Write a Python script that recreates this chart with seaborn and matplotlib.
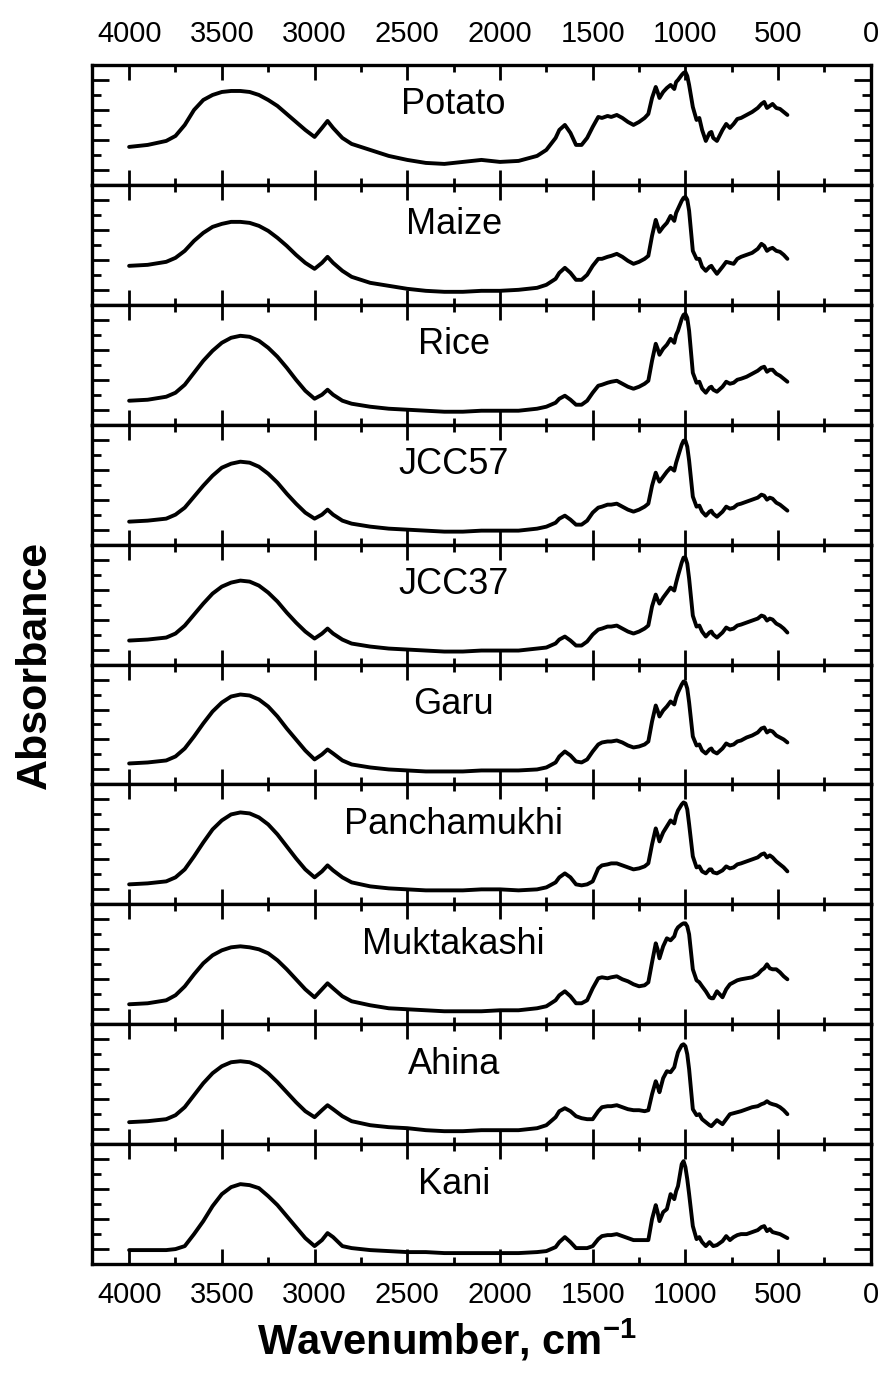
import numpy as np
import pandas as pd
import matplotlib
matplotlib.use("Agg")
import matplotlib.pyplot as plt
from matplotlib.ticker import MultipleLocator, FixedLocator
import seaborn as sns

# FTIR spectra of starches: wavenumber grid (cm^-1) and absorbance (a.u.) per sample
wavenumber = [
    4000, 3900, 3800, 3750, 3700, 3650, 3600, 3550, 3500, 3450,
    3400, 3350, 3300, 3250, 3200, 3150, 3100, 3050, 3000, 2960,
    2930, 2900, 2850, 2800, 2700, 2600, 2500, 2400, 2300, 2200,
    2100, 2000, 1900, 1800, 1750, 1700, 1680, 1650, 1620, 1590,
    1560, 1530, 1500, 1470, 1450, 1420, 1400, 1370, 1340, 1310,
    1280, 1250, 1220, 1200, 1180, 1160, 1150, 1140, 1120, 1100,
    1080, 1060, 1050, 1040, 1020, 1010, 1000, 990, 980, 960,
    940, 925, 910, 890, 870, 860, 850, 830, 800, 780,
    760, 740, 720, 700, 670, 640, 610, 590, 575, 560,
    545, 530, 510, 490, 470, 450,
]

potato = [
    0.38, 0.40, 0.44, 0.49, 0.60, 0.75, 0.85, 0.90, 0.93, 0.94,
    0.94, 0.93, 0.90, 0.85, 0.79, 0.71, 0.63, 0.55, 0.48, 0.57,
    0.64, 0.57, 0.47, 0.41, 0.35, 0.29, 0.25, 0.22, 0.21, 0.23,
    0.25, 0.23, 0.24, 0.29, 0.35, 0.47, 0.55, 0.60, 0.52, 0.40,
    0.40, 0.47, 0.58, 0.68, 0.67, 0.69, 0.68, 0.70, 0.67, 0.63,
    0.60, 0.63, 0.67, 0.71, 0.87, 0.98, 0.93, 0.87, 0.93, 0.97,
    1.00, 0.96, 1.03, 1.05, 1.10, 1.12, 1.13, 1.09, 1.00, 0.78,
    0.65, 0.67, 0.55, 0.44, 0.52, 0.53, 0.47, 0.44, 0.55, 0.61,
    0.57, 0.61, 0.66, 0.67, 0.70, 0.73, 0.77, 0.81, 0.83, 0.77,
    0.79, 0.81, 0.77, 0.76, 0.73, 0.70,
]

maize = [
    0.39, 0.40, 0.43, 0.47, 0.54, 0.64, 0.72, 0.78, 0.81, 0.83,
    0.83, 0.82, 0.79, 0.74, 0.67, 0.59, 0.50, 0.42, 0.36, 0.42,
    0.48, 0.42, 0.34, 0.28, 0.22, 0.19, 0.16, 0.14, 0.13, 0.13,
    0.14, 0.14, 0.15, 0.17, 0.20, 0.26, 0.32, 0.37, 0.32, 0.25,
    0.25, 0.30, 0.39, 0.46, 0.46, 0.48, 0.49, 0.51, 0.48, 0.44,
    0.41, 0.43, 0.46, 0.49, 0.69, 0.85, 0.79, 0.73, 0.78, 0.82,
    0.89, 0.84, 0.92, 0.96, 1.04, 1.07, 1.08, 1.05, 0.94, 0.54,
    0.46, 0.46, 0.38, 0.34, 0.38, 0.39, 0.36, 0.31, 0.38, 0.43,
    0.42, 0.41, 0.46, 0.48, 0.50, 0.52, 0.56, 0.61, 0.59, 0.54,
    0.56, 0.57, 0.54, 0.53, 0.50, 0.46,
]

rice = [
    0.24, 0.25, 0.28, 0.32, 0.40, 0.52, 0.64, 0.74, 0.82, 0.87,
    0.89, 0.88, 0.84, 0.77, 0.68, 0.57, 0.45, 0.34, 0.26, 0.30,
    0.35, 0.30, 0.24, 0.21, 0.18, 0.16, 0.15, 0.14, 0.13, 0.13,
    0.14, 0.14, 0.14, 0.16, 0.18, 0.22, 0.26, 0.29, 0.25, 0.20,
    0.20, 0.24, 0.32, 0.39, 0.40, 0.42, 0.43, 0.44, 0.41, 0.38,
    0.36, 0.38, 0.41, 0.44, 0.64, 0.81, 0.76, 0.70, 0.76, 0.80,
    0.86, 0.82, 0.90, 0.94, 1.06, 1.10, 1.11, 1.07, 0.94, 0.52,
    0.42, 0.43, 0.36, 0.32, 0.37, 0.38, 0.35, 0.33, 0.38, 0.43,
    0.41, 0.42, 0.45, 0.46, 0.48, 0.51, 0.54, 0.57, 0.58, 0.53,
    0.55, 0.55, 0.51, 0.49, 0.46, 0.43,
]

jcc57 = [
    0.23, 0.24, 0.26, 0.30, 0.37, 0.48, 0.59, 0.69, 0.77, 0.81,
    0.83, 0.82, 0.78, 0.71, 0.62, 0.51, 0.41, 0.32, 0.26, 0.30,
    0.35, 0.30, 0.24, 0.21, 0.18, 0.16, 0.15, 0.14, 0.13, 0.13,
    0.14, 0.14, 0.14, 0.16, 0.18, 0.22, 0.26, 0.29, 0.25, 0.20,
    0.20, 0.24, 0.32, 0.37, 0.38, 0.40, 0.40, 0.41, 0.38, 0.35,
    0.33, 0.35, 0.38, 0.41, 0.59, 0.72, 0.67, 0.63, 0.68, 0.73,
    0.77, 0.74, 0.82, 0.88, 1.00, 1.04, 1.04, 0.98, 0.84, 0.48,
    0.38, 0.39, 0.33, 0.29, 0.33, 0.34, 0.31, 0.28, 0.33, 0.38,
    0.36, 0.37, 0.40, 0.41, 0.43, 0.45, 0.47, 0.50, 0.49, 0.45,
    0.47, 0.46, 0.42, 0.40, 0.37, 0.34,
]

jcc37 = [
    0.24, 0.25, 0.27, 0.31, 0.39, 0.50, 0.61, 0.71, 0.78, 0.82,
    0.84, 0.83, 0.79, 0.72, 0.63, 0.52, 0.42, 0.33, 0.26, 0.31,
    0.36, 0.31, 0.25, 0.21, 0.18, 0.16, 0.15, 0.14, 0.13, 0.13,
    0.14, 0.14, 0.14, 0.16, 0.17, 0.21, 0.25, 0.28, 0.24, 0.19,
    0.19, 0.23, 0.30, 0.35, 0.36, 0.38, 0.38, 0.39, 0.36, 0.33,
    0.31, 0.33, 0.36, 0.39, 0.58, 0.70, 0.65, 0.61, 0.67, 0.72,
    0.77, 0.74, 0.82, 0.89, 1.02, 1.07, 1.07, 1.01, 0.86, 0.49,
    0.38, 0.39, 0.33, 0.28, 0.32, 0.33, 0.30, 0.27, 0.32, 0.37,
    0.35, 0.36, 0.39, 0.40, 0.42, 0.44, 0.46, 0.49, 0.48, 0.44,
    0.46, 0.45, 0.41, 0.39, 0.36, 0.32,
]

garu = [
    0.21, 0.22, 0.24, 0.28, 0.36, 0.48, 0.61, 0.73, 0.82, 0.88,
    0.90, 0.89, 0.85, 0.78, 0.68, 0.56, 0.45, 0.34, 0.25, 0.30,
    0.35, 0.31, 0.24, 0.20, 0.17, 0.15, 0.14, 0.13, 0.13, 0.13,
    0.14, 0.14, 0.14, 0.15, 0.17, 0.22, 0.28, 0.33, 0.29, 0.23,
    0.22, 0.25, 0.33, 0.40, 0.42, 0.43, 0.43, 0.44, 0.42, 0.39,
    0.37, 0.38, 0.40, 0.43, 0.63, 0.79, 0.74, 0.68, 0.74, 0.78,
    0.83, 0.80, 0.87, 0.92, 1.00, 1.03, 1.02, 0.96, 0.82, 0.48,
    0.39, 0.40, 0.34, 0.31, 0.35, 0.36, 0.33, 0.31, 0.36, 0.41,
    0.39, 0.40, 0.43, 0.44, 0.47, 0.49, 0.52, 0.56, 0.57, 0.52,
    0.54, 0.53, 0.49, 0.47, 0.45, 0.42,
]

panchamukhi = [
    0.20, 0.21, 0.23, 0.27, 0.35, 0.48, 0.62, 0.75, 0.84, 0.90,
    0.92, 0.91, 0.87, 0.80, 0.70, 0.58, 0.46, 0.35, 0.27, 0.33,
    0.39, 0.34, 0.27, 0.22, 0.18, 0.16, 0.15, 0.14, 0.14, 0.14,
    0.15, 0.15, 0.14, 0.15, 0.17, 0.22, 0.27, 0.31, 0.27, 0.20,
    0.19, 0.20, 0.23, 0.36, 0.39, 0.40, 0.41, 0.41, 0.39, 0.37,
    0.35, 0.36, 0.38, 0.41, 0.60, 0.76, 0.70, 0.63, 0.72, 0.78,
    0.84, 0.81, 0.89, 0.94, 1.00, 1.02, 1.01, 0.95, 0.80, 0.48,
    0.37, 0.38, 0.33, 0.31, 0.35, 0.35, 0.32, 0.31, 0.34, 0.38,
    0.36, 0.37, 0.40, 0.41, 0.43, 0.45, 0.47, 0.50, 0.51, 0.47,
    0.49, 0.47, 0.43, 0.40, 0.37, 0.33,
]

muktakashi = [
    0.20, 0.21, 0.24, 0.29, 0.38, 0.50, 0.61, 0.69, 0.74, 0.77,
    0.78, 0.77, 0.75, 0.71, 0.64, 0.55, 0.45, 0.35, 0.27, 0.35,
    0.41, 0.36, 0.28, 0.23, 0.19, 0.16, 0.15, 0.14, 0.13, 0.13,
    0.13, 0.14, 0.14, 0.16, 0.18, 0.24, 0.29, 0.33, 0.28, 0.21,
    0.21, 0.24, 0.36, 0.46, 0.47, 0.46, 0.47, 0.48, 0.45, 0.43,
    0.40, 0.38, 0.39, 0.42, 0.62, 0.81, 0.75, 0.66, 0.78, 0.86,
    0.84, 0.88, 0.94, 0.97, 1.00, 1.01, 1.01, 0.98, 0.90, 0.55,
    0.44, 0.42, 0.38, 0.33, 0.27, 0.26, 0.26, 0.33, 0.27, 0.35,
    0.40, 0.42, 0.44, 0.45, 0.46, 0.47, 0.50, 0.54, 0.56, 0.60,
    0.56, 0.55, 0.55, 0.52, 0.48, 0.45,
]

ahina = [
    0.22, 0.23, 0.25, 0.29, 0.37, 0.49, 0.61, 0.71, 0.78, 0.82,
    0.83, 0.82, 0.78, 0.71, 0.62, 0.52, 0.42, 0.33, 0.27, 0.34,
    0.39, 0.35, 0.28, 0.23, 0.19, 0.17, 0.16, 0.14, 0.13, 0.13,
    0.14, 0.14, 0.14, 0.16, 0.19, 0.27, 0.33, 0.36, 0.33, 0.28,
    0.26, 0.25, 0.25, 0.33, 0.37, 0.38, 0.38, 0.39, 0.37, 0.35,
    0.34, 0.34, 0.33, 0.34, 0.50, 0.63, 0.58, 0.52, 0.66, 0.73,
    0.72, 0.77, 0.85, 0.92, 0.99, 1.00, 0.98, 0.90, 0.75, 0.35,
    0.29, 0.30, 0.25, 0.22, 0.19, 0.18, 0.20, 0.24, 0.20, 0.25,
    0.30, 0.31, 0.32, 0.33, 0.35, 0.37, 0.38, 0.40, 0.41, 0.43,
    0.41, 0.40, 0.39, 0.37, 0.34, 0.30,
]

kani = [
    0.14, 0.14, 0.14, 0.15, 0.18, 0.30, 0.43, 0.58, 0.70, 0.77,
    0.80, 0.79, 0.76, 0.68, 0.59, 0.48, 0.37, 0.26, 0.18, 0.24,
    0.31, 0.27, 0.18, 0.16, 0.14, 0.13, 0.12, 0.12, 0.11, 0.11,
    0.11, 0.11, 0.11, 0.12, 0.13, 0.17, 0.22, 0.27, 0.22, 0.16,
    0.16, 0.16, 0.18, 0.25, 0.28, 0.29, 0.29, 0.30, 0.28, 0.26,
    0.24, 0.24, 0.24, 0.24, 0.45, 0.59, 0.52, 0.43, 0.52, 0.55,
    0.70, 0.65, 0.73, 0.78, 1.00, 1.03, 0.97, 0.85, 0.70, 0.38,
    0.25, 0.27, 0.22, 0.18, 0.22, 0.20, 0.18, 0.19, 0.23, 0.28,
    0.24, 0.27, 0.29, 0.30, 0.30, 0.32, 0.34, 0.37, 0.38, 0.33,
    0.35, 0.32, 0.31, 0.30, 0.28, 0.26,
]

samples = ["Potato", "Maize", "Rice", "JCC57", "JCC37", "Garu",
           "Panchamukhi", "Muktakashi", "Ahina", "Kani"]
spectra = [potato, maize, rice, jcc57, jcc37, garu,
           panchamukhi, muktakashi, ahina, kani]

df = pd.concat(
    [pd.DataFrame({"wavenumber": wavenumber, "absorbance": vals, "sample": name})
     for name, vals in zip(samples, spectra)],
    ignore_index=True,
)

sns.set_theme(style="ticks")
plt.rcParams["font.family"] = ["Liberation Sans", "DejaVu Sans"]
plt.rcParams["text.color"] = "black"
plt.rcParams["mathtext.fontset"] = "custom"
plt.rcParams["mathtext.rm"] = "Liberation Sans"
plt.rcParams["mathtext.bf"] = "Liberation Sans:bold"

fig = plt.figure(figsize=(8.85, 13.74), dpi=100)
gs = fig.add_gridspec(len(samples), 1, left=0.104, right=0.984,
                      top=0.9527, bottom=0.080, hspace=0)

for i, name in enumerate(samples):
    ax = fig.add_subplot(gs[i])
    sns.lineplot(data=df[df["sample"] == name], x="wavenumber", y="absorbance",
                 ax=ax, color="black", linewidth=2.8, sort=False, estimator=None)
    ax.set_xlim(4200, 0)
    ax.set_ylim(0, 1.2)
    ax.xaxis.set_major_locator(MultipleLocator(500))
    ax.xaxis.set_minor_locator(MultipleLocator(250))
    ax.yaxis.set_major_locator(FixedLocator([0.15, 0.45, 0.75, 1.05]))
    ax.yaxis.set_minor_locator(FixedLocator([0.30, 0.60, 0.90]))
    ax.tick_params(which="both", direction="in", top=True, bottom=True,
                   left=True, right=True, width=2.0, color="black")
    ax.tick_params(axis="x", which="major", length=11)
    ax.tick_params(axis="x", which="minor", length=5)
    ax.tick_params(axis="y", which="major", length=12)
    ax.tick_params(axis="y", which="minor", length=6.5)
    ax.tick_params(labelleft=False, labelright=False,
                   labelbottom=(i == len(samples) - 1), labeltop=(i == 0),
                   labelcolor="black", labelsize=21)
    ax.tick_params(axis="x", which="major", pad=12)
    for spine in ax.spines.values():
        spine.set_linewidth(2.4)
        spine.set_color("black")
    ax.set_xlabel("")
    ax.set_ylabel("")
    ax.text(2250, 0.80, name, ha="center", va="center", fontsize=26, color="black")

fig.text(0.505, 1 - 1340 / 1374, r"Wavenumber, cm$^{\mathbf{-1}}$",
         ha="center", va="center", fontsize=30, fontweight="bold", color="black")
fig.text(0.040, 1 - 665 / 1374, "Absorbance", rotation=90,
         ha="center", va="center", fontsize=31, fontweight="bold", color="black")

fig.savefig("out.png", dpi=100, facecolor="white")
